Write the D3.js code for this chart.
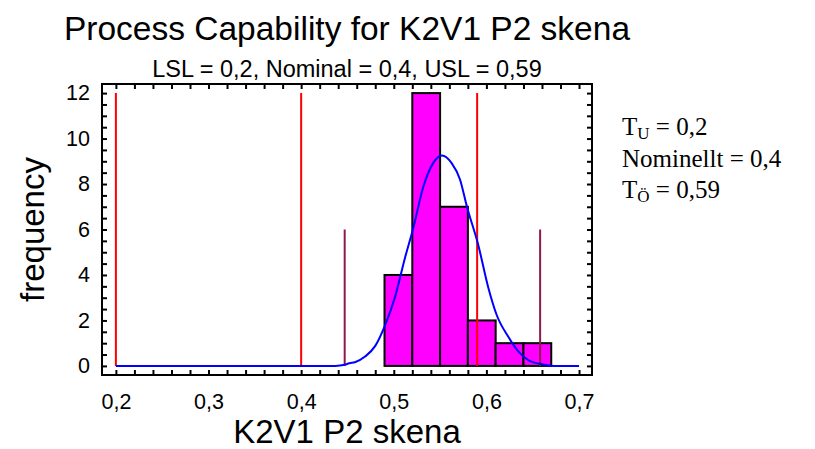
<!DOCTYPE html>
<html>
<head>
<meta charset="utf-8">
<script src="https://cdn.jsdelivr.net/npm/d3@7"></script>
<style>
  html, body { margin: 0; padding: 0; background: #fff; }
  svg { display: block; }
</style>
</head>
<body>
<svg id="chart" width="815" height="449"></svg>
<script>
// Histogram bins (bin edges and counts)
const binEdges = [0.49, 0.52, 0.55, 0.58, 0.61, 0.64, 0.67];
const binCounts = [4, 12, 7, 2, 1, 1];

// Fitted distribution curve, scaled to frequency
const curveX = [0.2, 0.437, 0.447, 0.452, 0.458, 0.469, 0.480, 0.490, 0.501, 0.512, 0.521, 0.532, 0.5425, 0.552, 0.5625, 0.5715, 0.579, 0.591, 0.602, 0.611, 0.6235, 0.634, 0.645, 0.660, 0.672, 0.7];
const curveY = [0, 0, 0.05, 0.12, 0.16, 0.41, 0.88, 1.73, 2.98, 4.74, 6.06, 7.89, 8.92, 9.26, 8.92, 8.2, 7.0, 5.35, 3.45, 2.25, 1.29, 0.66, 0.26, 0.07, 0, 0];

// Specification limits (full height) and tolerance markers (half height)
const specValues = [0.2, 0.4, 0.59];
const specHeight = 12;
const markerValues = [0.447, 0.658];
const markerHeight = 6;

// Axis ticks and labels
const xMajorTicks = [0.2, 0.3, 0.4, 0.5, 0.6, 0.7];
const xMinorTicks = d3.range(0, 26).map(i => +(0.2 + i * 0.02).toFixed(2));
const yMajorTicks = [0, 2, 4, 6, 8, 10, 12];
const yMinorTicks = d3.range(0, 25).map(i => i * 0.5);

const titleText = "Process Capability for K2V1 P2 skena";
const subtitleText = "LSL = 0,2, Nominal = 0,4, USL = 0,59";
const xLabel = "K2V1 P2 skena";
const yLabel = "frequency";
const legendRows = [
  { main: "T", sub: "U", rest: " = 0,2" },
  { main: "Nominellt = 0,4", sub: "", rest: "" },
  { main: "T", sub: "Ö", rest: " = 0,59" }
];

const svg = d3.select("#chart");
const frame = { left: 102, right: 592, top: 84, bottom: 375 };

const x = d3.scaleLinear().domain([0.185, 0.714]).range([frame.left, frame.right]);
const y = d3.scaleLinear().domain([-0.4, 12.4]).range([frame.bottom, frame.top]);

const comma = d => d3.format(".1f")(d).replace(".", ",");
const sans = "Arial, 'Liberation Sans', sans-serif";

// Title and subtitle
const cx = (frame.left + frame.right) / 2;
svg.append("text").attr("x", cx).attr("y", 40).attr("text-anchor", "middle")
  .style("font-family", sans).style("font-size", "33.5px").text(titleText);
svg.append("text").attr("x", cx).attr("y", 77).attr("text-anchor", "middle")
  .style("font-family", sans).style("font-size", "23.5px").text(subtitleText);

// Histogram bars
const bins = binCounts.map((c, i) => ({ x0: binEdges[i], x1: binEdges[i + 1], count: c }));
svg.append("g").selectAll("rect").data(bins).join("rect")
  .attr("x", d => x(d.x0))
  .attr("y", d => y(d.count))
  .attr("width", d => x(d.x1) - x(d.x0))
  .attr("height", d => y(0) - y(d.count))
  .attr("fill", "#ff00ff")
  .attr("stroke", "#000")
  .attr("stroke-width", 2);

// Specification lines
svg.append("g").selectAll("line").data(specValues).join("line")
  .attr("x1", d => x(d)).attr("x2", d => x(d))
  .attr("y1", y(0)).attr("y2", y(specHeight))
  .attr("stroke", "#ff0000").attr("stroke-width", 2);

// Tolerance markers
svg.append("g").selectAll("line").data(markerValues).join("line")
  .attr("x1", d => x(d)).attr("x2", d => x(d))
  .attr("y1", y(0)).attr("y2", y(markerHeight))
  .attr("stroke", "#8c1a4c").attr("stroke-width", 2);

// Distribution curve
const pts = curveX.map((v, i) => [v, curveY[i]]);
svg.append("path").datum(pts)
  .attr("fill", "none").attr("stroke", "#0000ff").attr("stroke-width", 2)
  .attr("d", d3.line().x(d => x(d[0])).y(d => y(d[1])).curve(d3.curveMonotoneX));

// Inward tick marks on all four sides
function styleTicks(g) {
  g.select(".domain").remove();
  g.selectAll("line").attr("stroke", "#000").attr("stroke-width", 2);
}
svg.append("g").attr("transform", `translate(0,${frame.bottom})`)
  .call(d3.axisBottom(x).tickValues(xMinorTicks).tickSize(-5).tickFormat("")).call(styleTicks);
svg.append("g").attr("transform", `translate(0,${frame.top})`)
  .call(d3.axisTop(x).tickValues(xMinorTicks).tickSize(-5).tickFormat("")).call(styleTicks);
svg.append("g").attr("transform", `translate(${frame.left},0)`)
  .call(d3.axisLeft(y).tickValues(yMinorTicks).tickSize(-5).tickFormat("")).call(styleTicks);
svg.append("g").attr("transform", `translate(${frame.right},0)`)
  .call(d3.axisRight(y).tickValues(yMinorTicks).tickSize(-5).tickFormat("")).call(styleTicks);

// Tick labels
const xLab = svg.append("g").attr("transform", `translate(0,${frame.bottom})`)
  .call(d3.axisBottom(x).tickValues(xMajorTicks).tickSize(0).tickPadding(19).tickFormat(comma));
xLab.select(".domain").remove();
xLab.selectAll("text").style("font-family", sans).style("font-size", "21.5px").attr("fill", "#000");

const yLab = svg.append("g").attr("transform", `translate(${frame.left},0)`)
  .call(d3.axisLeft(y).tickValues(yMajorTicks).tickSize(0).tickPadding(12).tickFormat(d3.format("d")));
yLab.select(".domain").remove();
yLab.selectAll("text").style("font-family", sans).style("font-size", "21.5px").attr("fill", "#000");

// Frame
svg.append("rect")
  .attr("x", frame.left).attr("y", frame.top)
  .attr("width", frame.right - frame.left).attr("height", frame.bottom - frame.top)
  .attr("fill", "none").attr("stroke", "#000").attr("stroke-width", 2);

// Axis titles
svg.append("text").attr("x", cx).attr("y", 443).attr("text-anchor", "middle")
  .style("font-family", sans).style("font-size", "33px").text(xLabel);
svg.append("text").attr("transform", `translate(44,${(frame.top + frame.bottom) / 2}) rotate(-90)`)
  .attr("text-anchor", "middle")
  .style("font-family", sans).style("font-size", "33px").text(yLabel);

// Legend with limit values
const legend = svg.append("g").attr("transform", "translate(622,0)");
legendRows.forEach((r, i) => {
  const t = legend.append("text").attr("x", 0).attr("y", 135 + i * 31.5)
    .style("font-family", "'Times New Roman', 'Liberation Serif', serif").style("font-size", "25px");
  t.append("tspan").text(r.main);
  if (r.sub) {
    t.append("tspan").attr("dy", 4).style("font-size", "17px").text(r.sub);
    t.append("tspan").attr("dy", -4).text(r.rest);
  }
});
</script>
</body>
</html>
